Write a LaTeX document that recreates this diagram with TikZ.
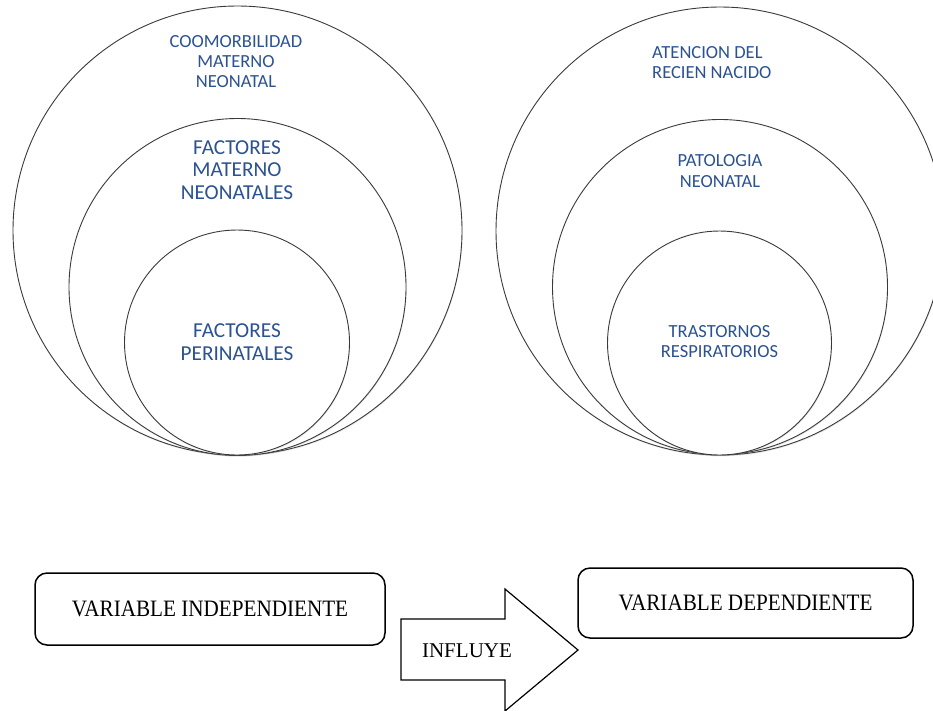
\documentclass[tikz,border=0pt]{standalone}
\usepackage{fontspec}
\usetikzlibrary{shadows}
\setmainfont{Carlito}
\newfontfamily\boxfont[FakeStretch=0.9]{Liberation Serif}
\newfontfamily\arrowfont{Liberation Serif}
\definecolor{labelblue}{HTML}{2B5293}
\definecolor{ringgray}{HTML}{3A3A3A}
\begin{document}
\begin{tikzpicture}[x=1pt,y=-1pt,
  ring/.style={circle, draw=ringgray, line width=0.9pt, fill=white, inner sep=0pt,
               drop shadow={opacity=0.18, shadow xshift=0.6pt, shadow yshift=-1.2pt}},
  ringlabel/.style={text=labelblue, align=center, inner sep=0pt},
  small/.style={font=\fontsize{18.5}{20}\selectfont},
  large/.style={font=\fontsize{21.3}{22.5}\selectfont},
  varbox/.style={draw=black, line width=1.5pt, rounded corners=12pt, fill=white,
                 font=\boxfont\fontsize{23.5}{28}\selectfont, inner sep=0pt}
]
\clip (0,0) rectangle (933,710);
\fill[white] (0,0) rectangle (933,710);

% left group of nested circles
\node[ring, minimum size=449pt] (lbig) at (237.5,230.5) {};
\node[ring, minimum size=337pt] (lmid) at (237.5,287) {};
\node[ring, minimum size=225pt] (lsmall) at (237,342.5) {};
\node[ringlabel, small] (lbigtxt) at (236,62) {COOMORBILIDAD\\MATERNO\\NEONATAL};
\node[ringlabel, large] (lmidtxt) at (237,170) {FACTORES\\MATERNO\\NEONATALES};
\node[ringlabel, large] (lsmalltxt) at (237,342) {FACTORES\\PERINATALES};

% right group of nested circles
\node[ring, minimum size=448pt] (rbig) at (720,231) {};
\node[ring, minimum size=335pt] (rmid) at (720,287) {};
\node[ring, minimum size=224pt] (rsmall) at (719.5,343) {};
\node[ringlabel, small, align=left, anchor=west] (rbigtxt) at (652,63) {ATENCION DEL\\RECIEN NACIDO};
\node[ringlabel, small, font=\fontsize{18.5}{21}\selectfont] (rmidtxt) at (720,171.5) {PATOLOGIA\\NEONATAL};
\node[ringlabel, small] (rsmalltxt) at (719.5,341.5) {TRASTORNOS\\RESPIRATORIOS};

% variable boxes
\node[varbox, minimum width=350pt, minimum height=72pt] (indep) at (210,609) {VARIABLE INDEPENDIENTE};
\node[varbox, minimum width=335pt, minimum height=70pt] (dep) at (745.5,603) {VARIABLE DEPENDIENTE};

% block arrow between the boxes
\coordinate (arrA) at (401,619);
\coordinate (arrB) at (505,619);
\coordinate (arrC) at (505,589);
\coordinate (arrTip) at (578,650);
\coordinate (arrD) at (505,711);
\coordinate (arrE) at (505,680);
\coordinate (arrF) at (401,680);
\draw[line width=1.2pt, fill=white, line join=miter]
  (arrA) -- (arrB) -- (arrC) -- (arrTip) -- (arrD) -- (arrE) -- (arrF) -- cycle;
\node[font=\arrowfont\fontsize{21}{24}\selectfont, inner sep=0pt] (influye) at (467,651) {INFLUYE};
\end{tikzpicture}
\end{document}
